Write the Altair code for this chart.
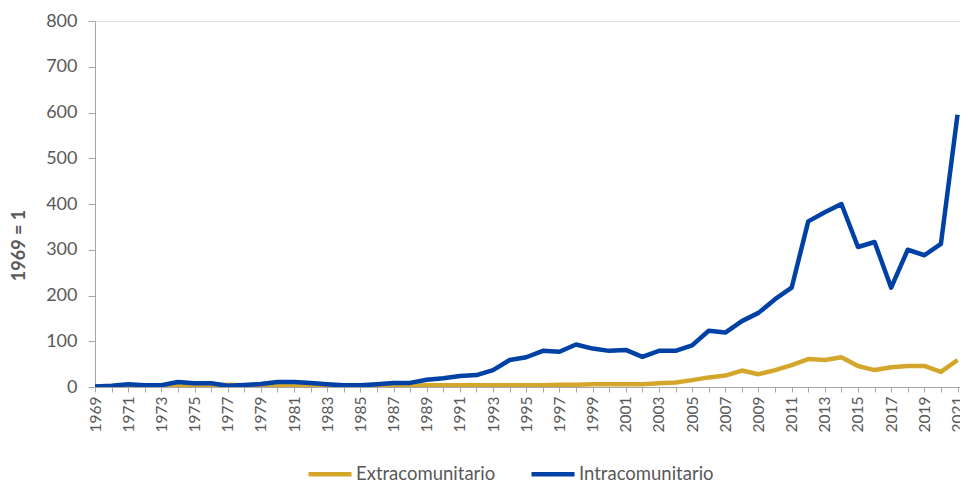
import altair as alt
import pandas as pd

years = list(range(1969, 2022))

extra = [1, 1, 2, 1, 1, 5, 2, 2, 5, 4, 3, 5, 5, 3,
         2, 2, 2, 3, 3, 3, 4, 4, 4, 4, 4, 4, 4, 4, 5, 5, 6, 6,
         6, 6, 8, 10, 15, 21, 25, 36, 28, 37, 48, 61, 59, 65, 46, 37, 43, 46, 46, 33, 59]

intra = [1, 3, 6, 4, 4, 11, 8, 8, 3, 4.5, 6.5, 11, 11, 8.7,
         6, 3.6, 3.6, 6, 8.7, 9, 16, 19, 24, 26, 37, 59, 65, 79, 77, 93, 84, 79,
         81, 66, 79, 79, 91, 123, 119, 144, 162, 192, 217, 362, 382, 400, 306, 317, 217, 300, 288, 313, 595]

series_names = ["Extracomunitario", "Intracomunitario"]
series_colors = ["#D4A72C", "#0041A6"]

rows = []
for y, e, i in zip(years, extra, intra):
    rows.append({"year": y, "serie": series_names[0], "value": e})
    rows.append({"year": y, "serie": series_names[1], "value": i})
df = pd.DataFrame(rows)

FONT = "Lato"
GRAY = "#595959"
AXIS_GRAY = "#A6A6A6"

chart = (
    alt.Chart(df)
    .mark_line(strokeWidth=4.5, clip=True, strokeJoin="round")
    .encode(
        x=alt.X(
            "year:Q",
            scale=alt.Scale(domain=[1969, 2021.15], nice=False, zero=False),
            axis=alt.Axis(
                values=years,
                labelExpr="datum.value % 2 == 1 ? datum.value + '' : ''",
                labelAngle=-90,
                labelAlign="right",
                labelBaseline="middle",
                labelFontSize=15.5,
                labelColor=GRAY,
                labelFont=FONT,
                labelPadding=4,
                labelOverlap=False,
                labelFlush=False,
                tickSize=5,
                tickColor=AXIS_GRAY,
                domainColor=AXIS_GRAY,
                grid=False,
                title=None,
            ),
        ),
        y=alt.Y(
            "value:Q",
            scale=alt.Scale(domain=[0, 800], nice=False),
            axis=alt.Axis(
                values=list(range(0, 801, 100)),
                labelFontSize=18,
                labelColor=GRAY,
                labelFont=FONT,
                labelPadding=11,
                tickSize=7,
                tickColor=AXIS_GRAY,
                domainColor=AXIS_GRAY,
                grid=False,
                title="1969 = 1",
                titleFont=FONT,
                titleFontSize=18,
                titleFontWeight="bold",
                titleColor=GRAY,
                titleAngle=270,
                titleAlign="center",
                titleBaseline="middle",
                titleX=-76,
                titleY=224,
            ),
        ),
        color=alt.Color(
            "serie:N",
            scale=alt.Scale(domain=series_names, range=series_colors),
            legend=alt.Legend(
                title=None,
                orient="none",
                direction="horizontal",
                legendX=211,
                legendY=429,
                symbolType="stroke",
                symbolSize=1849,
                symbolStrokeWidth=4.5,
                labelFont=FONT,
                labelFontSize=18.5,
                labelColor=GRAY,
                labelOffset=2,
                columnPadding=26,
            ),
        ),
    )
    .properties(
        width=865,
        height=366,
        autosize=alt.AutoSizeParams(type="none"),
        padding={"left": 87, "top": 13, "right": 0, "bottom": 97},
    )
    .configure_view(stroke=None)
    .configure(background="white")
)

chart.save("out.html", embed_options={"renderer": "svg", "actions": False})
